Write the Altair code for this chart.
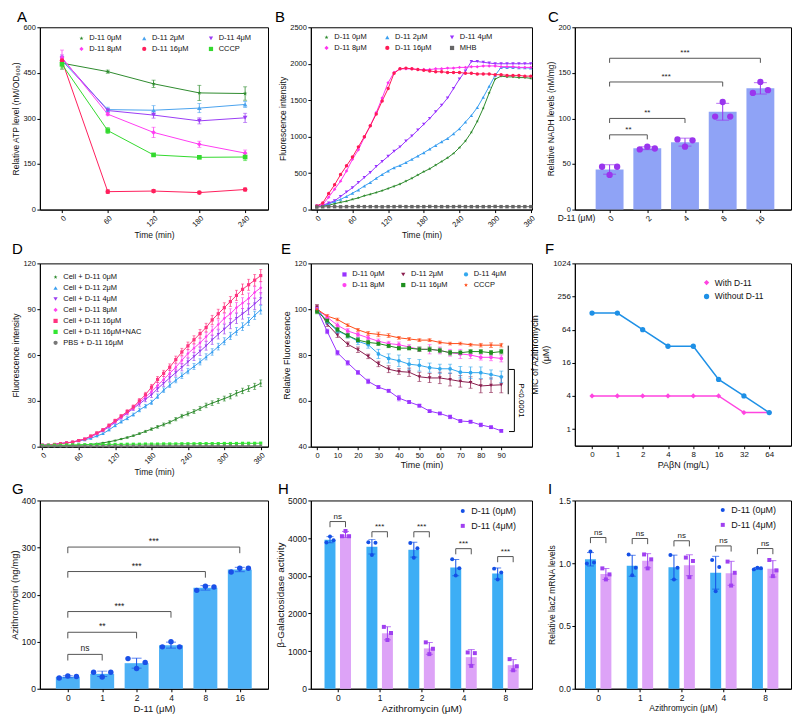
import json
import altair as alt
import numpy as np
import pandas as pd

FONT = "Liberation Sans"
STAR = "M0,-1L0.235,-0.324L0.951,-0.309L0.38,0.124L0.588,0.809L0,0.4L-0.588,0.809L-0.38,0.124L-0.951,-0.309L-0.235,-0.324Z"

# ---------------- Panel A data ----------------
a_time = [0, 60, 120, 180, 240]
a_names = ["D-11  0μM", "D-11  2μM", "D-11  4μM", "D-11  8μM", "D-11  16μM", "CCCP"]
a_colors = ["#2e8b2e", "#4aa3ee", "#9b3df5", "#ff3cf2", "#ff1f5c", "#33d92e"]
a_shapes = [STAR, "triangle-up", "triangle-down", "diamond", "circle", "square"]
a_0 = [482, 454, 414, 384, 382]
a_2 = [490, 329, 327, 334, 346]
a_4 = [497, 326, 311, 292, 302]
a_8 = [500, 314, 254, 215, 186]
a_16 = [490, 59, 61, 56, 66]
a_cccp = [478, 260, 180, 172, 173]
a_0_sd = [20, 5, 12, 25, 22]
a_2_sd = [15, 8, 15, 15, 10]
a_4_sd = [12, 6, 10, 10, 15]
a_8_sd = [25, 5, 17, 10, 10]
a_16_sd = [8, 6, 5, 4, 5]
a_cccp_sd = [12, 10, 3, 3, 12]

# ---------------- Panel B data ----------------
b_time = list(range(0, 361, 10))
b_names = ["D-11  0μM", "D-11  2μM", "D-11  4μM", "D-11  8μM", "D-11  16μM", "MHB"]
b_colors = ["#2e8b2e", "#3a9ff0", "#9933ff", "#ff33ee", "#ff1a55", "#666666"]
b_shapes = [STAR, "triangle-up", "triangle-down", "diamond", "circle", "square"]
b_0 = [45, 50, 60, 80, 100, 115, 140, 160, 190, 210, 235, 260, 290, 320, 350, 390, 430, 475, 520, 560,
       610, 660, 710, 770, 850, 940, 1060, 1210, 1390, 1600, 1790, 1830, 1820, 1820, 1810, 1810, 1800]
b_2 = [50, 55, 75, 110, 140, 180, 225, 270, 325, 370, 430, 480, 530, 575, 605, 645, 690, 735, 780, 830,
       880, 930, 975, 1040, 1110, 1200, 1290, 1400, 1540, 1690, 1840, 1950, 1950, 1950, 1945, 1945, 1940]
b_4 = [50, 60, 90, 120, 180, 240, 300, 370, 440, 510, 590, 660, 730, 800, 860, 940, 1010, 1090, 1170, 1250,
       1340, 1430, 1530, 1660, 1790, 1900, 2030, 2030, 2020, 2010, 2000, 2000, 2000, 2000, 2000, 2000, 2000]
b_8 = [40, 70, 170, 280, 390, 530, 690, 820, 990, 1150, 1330, 1530, 1740, 1880, 1930, 1930, 1930, 1920, 1920, 1920,
       1930, 1930, 1940, 1940, 1950, 1950, 1960, 1960, 1970, 1970, 1970, 1960, 1960, 1960, 1950, 1950, 1950]
b_16 = [50, 90, 220, 340, 480, 600, 720, 860, 1000, 1150, 1310, 1490, 1660, 1870, 1930, 1940, 1930, 1920, 1910, 1900,
        1890, 1890, 1880, 1880, 1880, 1870, 1870, 1860, 1860, 1860, 1850, 1850, 1840, 1840, 1840, 1830, 1830]
b_mhb = [35, 38, 40, 40, 38, 40, 40, 42, 40, 40, 40, 38, 40, 40, 42, 40, 40, 40, 40, 42,
         40, 40, 40, 40, 42, 40, 40, 40, 40, 40, 42, 40, 40, 40, 40, 40, 40]

# ---------------- Panel C data ----------------
c_labels = ["0", "2", "4", "8", "16"]
c_dots = [[47, 38, 47], [66, 69, 67], [77, 69, 76], [102, 118, 102], [128, 140, 131]]
c_sig = [(0, 1, 82, "**"), (0, 2, 100, "**"), (0, 3, 140, "***"), (0, 4, 166, "***")]

# ---------------- Panel D data ----------------
d_time = list(range(0, 361, 10))
d_names = ["Cell + D-11  0μM", "Cell + D-11  2μM", "Cell + D-11  4μM", "Cell + D-11  8μM",
           "Cell + D-11  16μM", "Cell + D-11  16μM+NAC", "PBS + D-11 16μM"]
d_colors = ["#2e8b2e", "#3a9ff0", "#9a3cf0", "#ff44ee", "#ff3380", "#33e633", "#777777"]
d_shapes = [STAR, "triangle-up", "triangle-down", "diamond", "square", "square", "circle"]
d_0 = [0.5, 0.5, 0.5, 0.6, 0.7, 0.8, 1.0, 1.2, 1.5, 2.0, 2.5, 3.2, 4.0, 5.0, 6.0, 7.2, 8.5, 10, 11.5, 13,
       14.5, 16, 18, 20, 21.5, 23, 25, 27, 28.5, 30, 31.5, 33, 35, 36.5, 38, 39.5, 41.5]
d_2 = [1, 1.2, 1.5, 2, 2.5, 3, 3.8, 4.5, 5.5, 7, 8.5, 11, 13.8, 16.3, 18.6, 21, 24, 26.5, 29, 33,
       37, 40.3, 43.5, 46.5, 49.5, 52.5, 55.5, 58.8, 62, 65.5, 69, 72.5, 75.5, 78.6, 82, 86, 89.6]
d_4 = [1, 1, 1.5, 2, 2.5, 3, 4, 5, 6.5, 8.5, 10.5, 13, 16, 19, 22, 25, 28, 31, 34, 38,
       41.5, 45, 48.5, 52, 55.5, 59, 62.5, 66, 70, 73.5, 77, 80.5, 84, 87, 90, 93.5, 97]
d_8 = [1, 1, 1.5, 2, 2.5, 3, 4, 5, 6.5, 8.5, 11, 13.5, 16.5, 19.5, 22.5, 25.5, 29, 32.5, 36, 40,
       44, 48, 52, 56.5, 61, 64.5, 68, 72, 76, 80, 84, 87, 91, 94, 97, 101, 104]
d_16 = [1, 1, 1.5, 2, 2.5, 3, 4, 5, 7, 9, 11, 14, 17, 20, 23, 26, 30, 34, 39, 44,
        48, 52, 57, 62, 66, 70, 74, 78, 83, 87, 91, 95, 99, 103, 106, 109, 112]
d_nac = [0.8, 0.9, 1, 1, 1.1, 1.2, 1.2, 1.3, 1.3, 1.4, 1.4, 1.5, 1.5, 1.5, 1.6, 1.6, 1.6, 1.7, 1.7, 1.7,
         1.8, 1.8, 1.8, 1.9, 1.9, 1.9, 2, 2, 2, 2, 2.1, 2.1, 2.1, 2.2, 2.2, 2.2, 2.3]
d_pbs = [0.4, 0.4, 0.4, 0.4, 0.4, 0.5, 0.5, 0.5, 0.5, 0.5, 0.5, 0.5, 0.5, 0.5, 0.5, 0.5, 0.5, 0.5, 0.6, 0.6,
         0.6, 0.6, 0.6, 0.6, 0.6, 0.6, 0.6, 0.6, 0.6, 0.6, 0.6, 0.6, 0.6, 0.6, 0.6, 0.6, 0.6]
d_sd_hi = [0.2, 0.2, 0.2, 0.2, 0.3, 0.3, 0.3, 0.4, 0.5, 0.6, 0.7, 0.8, 1, 1, 1.2, 1.3, 1.5, 1.6, 1.8, 2,
           2, 2.2, 2.3, 2.4, 2.5, 2.6, 2.8, 2.8, 3, 3, 3.2, 3.3, 3.4, 3.5, 3.6, 3.8, 4]
d_sd_mid = [0.2, 0.2, 0.2, 0.2, 0.2, 0.3, 0.3, 0.3, 0.4, 0.5, 0.5, 0.6, 0.8, 0.8, 1, 1, 1.2, 1.2, 1.4, 1.5,
            1.5, 1.6, 1.7, 1.8, 1.8, 1.9, 2, 2, 2.1, 2.2, 2.3, 2.4, 2.5, 2.5, 2.6, 2.7, 2.8]
d_sd_lo = [0.1, 0.1, 0.1, 0.1, 0.1, 0.1, 0.1, 0.1, 0.2, 0.2, 0.2, 0.3, 0.3, 0.4, 0.5, 0.5, 0.6, 0.7, 0.8, 0.9,
           1, 1, 1.1, 1.2, 1.3, 1.3, 1.4, 1.5, 1.5, 1.6, 1.6, 1.7, 1.8, 1.8, 1.9, 2, 2.2]

# ---------------- Panel E data ----------------
e_time = list(range(0, 91, 5))
e_names = ["D-11  0μM", "D-11  2μM", "D-11  4μM", "D-11  8μM", "D-11  16μM", "CCCP"]
e_colors = ["#9933ff", "#8b1f4f", "#33a8ee", "#ff44f0", "#1f8f1f", "#ff4d1a"]
e_shapes = ["square", "triangle-down", "circle", "circle", "square", STAR]
e_0 = [100, 90.3, 81, 76.6, 72.4, 68.5, 66, 64.4, 61.2, 59.5, 57.9, 55.5, 54.5, 53, 51.2, 50.9, 49.5, 48.5, 46.9]
e_2 = [101, 93.5, 88.7, 84.7, 82.3, 79.4, 76.1, 73.8, 72.8, 72.5, 70.5, 70, 70, 69.3, 68.5, 68, 66.5, 66.8, 67]
e_4 = [100, 94.5, 90.5, 88.5, 86, 84.5, 80.5, 78.5, 77.5, 76, 75.5, 74.5, 74, 74, 72.5, 72.3, 72.3, 71.5, 70.5]
e_8 = [100, 96.5, 93, 90.5, 89, 87.5, 86, 85, 84.5, 83.5, 82.5, 82.5, 82, 81, 80.5, 80, 79, 79, 78.5]
e_16 = [99, 95, 91, 88.5, 86.5, 85.5, 85, 84, 83, 83, 82.5, 82.5, 82, 81, 81, 81.5, 81.5, 81, 81.5]
e_cccp = [100, 97, 95.5, 93, 91, 89.5, 89, 88.5, 87.5, 87, 86.5, 86.5, 85.5, 85, 85, 84.5, 84.3, 84.3, 84.3]
e_0_sd = [1, 1, 1, 1, 0.8, 1, 0.6, 0.6, 1.2, 0.6, 0.6, 0.5, 0.5, 0.8, 0.5, 0.6, 0.8, 0.5, 0.5]
e_2_sd = [1, 1, 1, 1, 1.2, 1, 1.2, 1.5, 1.2, 1.8, 2, 2, 2.5, 2.8, 2.5, 2.5, 3, 3.2, 3.5]
e_4_sd = [1, 1, 1, 1, 1.5, 1.5, 2, 2, 2.5, 2.5, 2.5, 2, 2, 2, 2.5, 2.5, 2.5, 2, 2.5]
e_8_sd = [1, 1, 1, 1, 1, 1, 1, 1, 1.2, 1, 1, 2, 1.5, 1.5, 2, 1.5, 1.2, 1.5, 1.5]
e_16_sd = [1, 1, 1, 1, 1, 1, 0.8, 0.8, 0.8, 0.8, 1, 1, 1, 1, 0.8, 0.8, 0.8, 1, 1]
e_cccp_sd = [1, 0.6, 0.6, 0.6, 0.6, 0.8, 1, 0.8, 0.6, 0.6, 0.6, 0.6, 0.6, 0.6, 0.6, 0.6, 0.8, 1, 0.8]
e_line_x = 93.4
e_line_y = [62.9, 84.1]
e_brk_x = [93.8, 96.4]
e_brk_y = [46.6, 73.7]
e_p_text = "P<0.0001"

# ---------------- Panel F data ----------------
f_labels = ["0", "1", "2", "4", "8", "16", "32", "64"]
f_names = ["With D-11", "Without D-11"]
f_colors = ["#ff44e0", "#1e90e6"]
f_shapes = ["diamond", "circle"]
f_with = [4, 4, 4, 4, 4, 4, 2, 2]
f_without = [128, 128, 64, 32, 32, 8, 4, 2]

# ---------------- Panel G data ----------------
g_labels = ["0", "1", "2", "4", "8", "16"]
g_dots = [[23, 27, 26], [35, 25, 35], [64, 43, 56], [89, 100, 89], [209, 218, 216], [248, 256, 256]]
g_sig = [(0, 1, 73, "ns"), (0, 2, 120, "**"), (0, 3, 164, "***"), (0, 4, 249, "***"), (0, 5, 301, "***")]

# ---------------- Panel H data ----------------
h_labels = ["0", "1", "2", "4", "8"]
hi_names = ["D-11 (0μM)", "D-11 (4μM)"]
h_blue = [[3884, 4045, 3946], [3890, 3550, 3880], [3870, 3480, 3730], [3440, 3010, 3200], [3190, 2900, 3090]]
h_purple = [[4050, 4190, 4050], [1643, 1295, 1480], [1232, 920, 1062], [964, 607, 946], [786, 491, 598]]
h_sig_y = [4440, 4170, 4170, 3720, 3510]
h_sig_t = ["ns", "***", "***", "***", "***"]

# ---------------- Panel I data ----------------
i_labels = ["0", "1", "2", "4", "8"]
i_blue = [[0.997, 1.093, 1.005], [1.07, 0.905, 0.964], [1.066, 0.871, 0.964], [1.026, 0.777, 0.970], [0.951, 0.965, 0.960]]
i_purple = [[0.959, 0.871, 0.911], [1.07, 0.959, 1.031], [1.045, 0.889, 1.018], [1.013, 0.822, 0.924], [1.026, 0.897, 0.943]]
i_sig_y = [1.205, 1.197, 1.179, 1.138, 1.117]
i_sig_t = ["ns", "ns", "ns", "ns", "ns"]


# ================= helpers =================
def long_df(times, names, series, errs):
    rows = []
    for name, vals, er in zip(names, series, errs):
        for j, t in enumerate(times):
            e = er[j] if er is not None else 0.0
            rows.append(dict(t=t, s=name, v=vals[j], lo=vals[j] - e, hi=vals[j] + e, e=e))
    return pd.DataFrame(rows)


def lg(x, y, cols=1, fs=7.5, sym=18, colpad=12, rowpad=2):
    return alt.Legend(orient="none", legendX=x, legendY=y, columns=cols, direction="horizontal",
                      title=None, labelFontSize=fs, symbolSize=sym, columnPadding=colpad,
                      rowPadding=rowpad, labelFont=FONT, labelColor="#111", padding=0,
                      labelLimit=300, symbolStrokeWidth=0, labelOffset=4)


def letter(ch, dx, dy):
    return alt.Chart(pd.DataFrame({"l": [ch]})).mark_text(
        fontSize=15, font=FONT, align="left", baseline="top", color="black"
    ).encode(text="l:N", x=alt.value(dx), y=alt.value(dy))


def lab_expr(labels):
    return json.dumps(labels, ensure_ascii=False) + "[datum.value]"


def brackets(items, depth, xs, ys, xa, ya, fs=8, dy=-1, color="#555"):
    seg, lab = [], []
    for x1, x2, y, t in items:
        seg.append({"x": x1, "x2": x2, "y": y, "y2": y})
        seg.append({"x": x1, "x2": x1, "y": y - depth, "y2": y})
        seg.append({"x": x2, "x2": x2, "y": y - depth, "y2": y})
        lab.append({"x": (x1 + x2) / 2, "y": y, "t": t})
    r = alt.Chart(pd.DataFrame(seg)).mark_rule(color=color, strokeWidth=1).encode(
        x=alt.X("x:Q", scale=xs, axis=xa), x2="x2:Q",
        y=alt.Y("y:Q", scale=ys, axis=ya), y2="y2:Q")
    tx = alt.Chart(pd.DataFrame(lab)).mark_text(
        baseline="bottom", dy=dy, fontSize=fs, font=FONT, color="#222").encode(
        x=alt.X("x:Q", scale=xs, axis=xa), y=alt.Y("y:Q", scale=ys, axis=ya), text="t:N")
    return [r, tx]


def line_panel(df, names, colors, shapes, xdom, ydom, xticks, yticks, xtitle, ytitle,
               legend, psize, xangle=0, ylog=False, show_err=True, lw=1.0,
               xlabels=None, yfmt="d", cap=4, lfs=7.5, tfs=8.5):
    cs = alt.Scale(domain=names, range=colors)
    ss = alt.Scale(domain=names, range=shapes)
    xs = alt.Scale(domain=xdom, nice=False, zero=False)
    if ylog:
        ys = alt.Scale(type="log", base=2, domain=ydom, nice=False)
    else:
        ys = alt.Scale(domain=ydom, nice=False, zero=False)
    xa_kw = dict(values=xticks, title=xtitle, labelAngle=xangle, labelFontSize=lfs, titleFontSize=tfs)
    if xlabels is not None:
        xa_kw["labelExpr"] = lab_expr(xlabels)
    ya_kw = dict(values=yticks, title=ytitle, labelFontSize=lfs, titleFontSize=tfs, format=yfmt)
    xa = alt.Axis(**xa_kw)
    ya = alt.Axis(**ya_kw)
    X = alt.X("t:Q", scale=xs, axis=xa)
    Y = alt.Y("v:Q", scale=ys, axis=ya)
    base = alt.Chart(df)
    layers = []
    for name, col in zip(names, colors):
        sub = base.transform_filter(alt.datum.s == name)
        layers.append(sub.mark_line(strokeWidth=lw, color=col).encode(x=X, y=Y))
        if show_err:
            layers.append(sub.transform_filter("datum.e > 0").mark_errorbar(
                ticks=True, size=cap, thickness=0.8, color=col).encode(
                x=X, y=alt.Y("lo:Q", scale=ys, axis=ya), y2="hi:Q"))
    layers.append(base.mark_point(filled=True, size=psize, opacity=1).encode(
        x=X, y=Y, color=alt.Color("s:N", scale=cs, legend=legend),
        shape=alt.Shape("s:N", scale=ss, legend=legend)))
    return layers, xs, ys, xa, ya


def single_bar_panel(labels, dots, sig, bar_color, dot_color, bar_size, dot_size, xdom, ydom,
                     yticks, ytitle, xaxis, w, h, cap, depth, let, sig_fs=8, dot_off=(-0.2, 0, 0.2),
                     lfs=7.5, tfs=8.5):
    xs = alt.Scale(domain=xdom, nice=False, zero=False)
    ys = alt.Scale(domain=ydom, nice=False, zero=True)
    bars, pts = [], []
    for i, d in enumerate(dots):
        m = float(np.mean(d))
        sd = float(np.std(d, ddof=1))
        bars.append({"x": i, "m": m, "lo": m - sd, "hi": m + sd})
        for k, v in enumerate(d):
            pts.append({"x": i + dot_off[k], "v": v})
    bdf = pd.DataFrame(bars)
    pdf = pd.DataFrame(pts)
    ya = alt.Axis(values=yticks, title=ytitle, labelFontSize=lfs, titleFontSize=tfs, format="d")
    X = alt.X("x:Q", scale=xs, axis=xaxis)
    layers = [
        alt.Chart(bdf).mark_bar(size=bar_size, color=bar_color).encode(
            x=X, y=alt.Y("m:Q", scale=ys, axis=ya)),
        alt.Chart(bdf).mark_errorbar(ticks=True, size=cap, thickness=1, color=dot_color).encode(
            x=X, y=alt.Y("lo:Q", scale=ys, axis=ya), y2="hi:Q"),
        alt.Chart(pdf).mark_circle(size=dot_size, color=dot_color, opacity=1).encode(
            x=X, y=alt.Y("v:Q", scale=ys, axis=ya)),
    ]
    layers += brackets(sig, depth, xs, ys, xaxis, ya, fs=sig_fs)
    layers.append(let)
    return alt.layer(*layers).properties(width=w, height=h)


def group_panel(labels, blue, purple, sig_y, sig_t, xdom, ydom, yticks, ytitle, xtitle,
                w, h, depth, let, legend, yfmt="d", off=0.185, bar_size=11, cap=7,
                lfs=8.5, tfs=9.5):
    bar_cols = ["#3daef5", "#dda3f7"]
    dot_cols = ["#1450e6", "#a040f0"]
    shapes = ["circle", "square"]
    xs = alt.Scale(domain=xdom, nice=False, zero=False)
    ys = alt.Scale(domain=ydom, nice=False, zero=True)
    bars, pts = [], []
    for gi, grp in enumerate([blue, purple]):
        o = -off if gi == 0 else off
        for i, d in enumerate(grp):
            m = float(np.mean(d))
            sd = float(np.std(d, ddof=1))
            bars.append({"x": i + o, "m": m, "lo": m - sd, "hi": m + sd, "g": gi})
            for k, v in enumerate(d):
                pts.append({"x": i + o + (k - 1) * 0.085, "v": v, "s": hi_names[gi]})
    bdf = pd.DataFrame(bars)
    pdf = pd.DataFrame(pts)
    xa = alt.Axis(values=list(range(len(labels))), labelExpr=lab_expr(labels), title=xtitle,
                  labelFontSize=lfs, titleFontSize=tfs)
    ya = alt.Axis(values=yticks, title=ytitle, labelFontSize=lfs, titleFontSize=tfs, format=yfmt)
    X = alt.X("x:Q", scale=xs, axis=xa)
    layers = []
    for gi in range(2):
        sub = bdf[bdf.g == gi]
        layers.append(alt.Chart(sub).mark_bar(size=bar_size, color=bar_cols[gi]).encode(
            x=X, y=alt.Y("m:Q", scale=ys, axis=ya)))
    for gi in range(2):
        sub = bdf[bdf.g == gi]
        layers.append(alt.Chart(sub).mark_errorbar(ticks=True, size=cap, thickness=1, color=dot_cols[gi]).encode(
            x=X, y=alt.Y("lo:Q", scale=ys, axis=ya), y2="hi:Q"))
    cs = alt.Scale(domain=hi_names, range=dot_cols)
    ss = alt.Scale(domain=hi_names, range=shapes)
    layers.append(alt.Chart(pdf).mark_point(filled=True, size=16, opacity=1).encode(
        x=X, y=alt.Y("v:Q", scale=ys, axis=ya),
        color=alt.Color("s:N", scale=cs, legend=legend),
        shape=alt.Shape("s:N", scale=ss, legend=legend)))
    items = [(i - off, i + off, y, t) for i, (y, t) in enumerate(zip(sig_y, sig_t))]
    layers += brackets(items, depth, xs, ys, xa, ya, fs=8)
    layers.append(let)
    return alt.layer(*layers).properties(width=w, height=h)


# ================= layout sizes =================
W0, W1, W2 = 229, 222, 217
H0, H1, H2 = 183, 184, 189

# ---------------- Panel A ----------------
dfA = long_df(a_time, a_names, [a_0, a_2, a_4, a_8, a_16, a_cccp],
              [a_0_sd, a_2_sd, a_4_sd, a_8_sd, a_16_sd, a_cccp_sd])
layA, _, _, _, _ = line_panel(dfA, a_names, a_colors, a_shapes, [-29, 270], [0, 600], a_time,
                              [0, 150, 300, 450, 600], "Time (min)", "Relative ATP level (nM/OD₆₀₀)",
                              lg(38, 7, cols=3, colpad=16), 22, xangle=-45, cap=4)
A = alt.layer(*layA, letter("A", -23, -17)).properties(width=W0, height=H0)

# ---------------- Panel B ----------------
dfB = long_df(b_time, b_names, [b_0, b_2, b_4, b_8, b_16, b_mhb], [None] * 6)
layB, _, _, _, _ = line_panel(dfB, b_names, b_colors, b_shapes, [-10, 362], [0, 2500],
                              list(range(0, 361, 60)), [0, 500, 1000, 1500, 2000, 2500],
                              "Time (min)", "Fluorescence intensity",
                              lg(12, 6, cols=3, colpad=14), 12, xangle=-45, show_err=False)
B = alt.layer(*layB, letter("B", -36, -17)).properties(width=W1, height=H0)

# ---------------- Panel C ----------------
xaxC = alt.Axis(values=list(range(5)), labelExpr=lab_expr(c_labels), labelAngle=-45,
                title="D-11 (μM)", titleAngle=0, titleX=20, titleY=8, titleAlign="right",
                titleBaseline="middle", titleFontSize=8.5, labelFontSize=8)
C = single_bar_panel(c_labels, c_dots, c_sig, "#8fa3f6", "#9a35ee", 28, 40, [-0.79, 4.68], [0, 200],
                     [0, 50, 100, 150, 200], "Relative NADH levels  (nM/mg)", xaxC, W2, H0, 13, 5,
                     letter("C", -27, -17))

# ---------------- Panel D ----------------
dfD = long_df(d_time, d_names, [d_0, d_2, d_4, d_8, d_16, d_nac, d_pbs],
              [d_sd_lo, d_sd_mid, d_sd_hi, d_sd_hi, d_sd_hi, None, None])
layD, _, _, _, _ = line_panel(dfD, d_names, d_colors, d_shapes, [-4, 372], [0, 120],
                              list(range(0, 361, 60)), [0, 30, 60, 90, 120],
                              "Time (min)", "Fluorescence intensity",
                              lg(12, 10, cols=1, fs=7.5, rowpad=2), 10, xangle=-45, cap=3)
D = alt.layer(*layD, letter("D", -28, -21)).properties(width=W0, height=H1)

# ---------------- Panel E ----------------
dfE = long_df(e_time, e_names, [e_0, e_2, e_4, e_8, e_16, e_cccp],
              [e_0_sd, e_2_sd, e_4_sd, e_8_sd, e_16_sd, e_cccp_sd])
layE, xsE, ysE, xaE, yaE = line_panel(dfE, e_names, e_colors, e_shapes, [-3, 105], [40, 120],
                                      list(range(0, 91, 10)), [40, 60, 80, 100, 120],
                                      "Time (min)", "Relative Fluorescence",
                                      lg(30, 7, cols=3, colpad=12), 14, cap=4, tfs=9)
segE = pd.DataFrame([
    {"x": e_line_x, "x2": e_line_x, "y": e_line_y[0], "y2": e_line_y[1]},
    {"x": e_brk_x[0], "x2": e_brk_x[1], "y": e_brk_y[0], "y2": e_brk_y[0]},
    {"x": e_brk_x[0], "x2": e_brk_x[1], "y": e_brk_y[1], "y2": e_brk_y[1]},
    {"x": e_brk_x[1], "x2": e_brk_x[1], "y": e_brk_y[0], "y2": e_brk_y[1]},
])
ruleE = alt.Chart(segE).mark_rule(color="black", strokeWidth=1).encode(
    x=alt.X("x:Q", scale=xsE, axis=xaE), x2="x2:Q",
    y=alt.Y("y:Q", scale=ysE, axis=yaE), y2="y2:Q")
txtE = alt.Chart(pd.DataFrame({"x": [e_brk_x[1] + 3.2], "y": [sum(e_brk_y) / 2], "t": [e_p_text]})).mark_text(
    angle=90, fontSize=8, font=FONT, color="black", align="center", baseline="middle").encode(
    x=alt.X("x:Q", scale=xsE, axis=xaE), y=alt.Y("y:Q", scale=ysE, axis=yaE), text="t:N")
E = alt.layer(*layE, ruleE, txtE, letter("E", -30, -21)).properties(width=W1, height=H1)

# ---------------- Panel F ----------------
f_idx = list(range(len(f_labels)))
dfF = long_df(f_idx, f_names, [f_with, f_without], [None, None])
layF, _, _, _, _ = line_panel(dfF, f_names, f_colors, f_shapes, [-0.68, 7.86], [0.5, 1024], f_idx,
                              [1, 4, 16, 64, 256, 1024], "PAβN (mg/L)", ["MIC of Azithromycin", "(μM)"],
                              lg(128, 15, cols=1, fs=8.5, sym=28, rowpad=5), 28,
                              ylog=True, show_err=False, lw=1.5, xlabels=f_labels, lfs=8, tfs=9)
F = alt.layer(*layF, letter("F", -30, -21)).properties(width=W2, height=183)

# ---------------- Panel G ----------------
xaxG = alt.Axis(values=list(range(6)), labelExpr=lab_expr(g_labels), title="D-11 (μM)",
                labelFontSize=8.5, titleFontSize=9.5)
G = single_bar_panel(g_labels, g_dots, g_sig, "#4db1f6", "#1a50e8", 24, 30, [-0.667, 5.676], [0, 400],
                     [0, 100, 200, 300, 400], "Azithromycin  (ng/mg)", xaxG, W0, H2, 10, 13,
                     letter("G", -28, -18), sig_fs=8.5, dot_off=(-0.25, 0, 0.25), lfs=8.5, tfs=9.5)

# ---------------- Panel H ----------------
H = group_panel(h_labels, h_blue, h_purple, h_sig_y, h_sig_t, [-0.523, 4.515], [0, 5000],
                [0, 1000, 2000, 3000, 4000, 5000], "β-Galactosidase activity", "Azithromycin (μM)",
                W1, H2, 150, letter("H", -33, -18), lg(148, 6, cols=1, fs=9, sym=16, rowpad=5), tfs=10)

# ---------------- Panel I ----------------
I = group_panel(i_labels, i_blue, i_purple, i_sig_y, i_sig_t, [-0.44, 4.5], [0, 1.5],
                [0, 0.5, 1.0, 1.5], "Relative lacZ mRNA levels", "Azithromycin (μM)",
                W2, H2, 0.045, letter("I", -27, -18), lg(144, 5, cols=1, fs=9, sym=16, rowpad=5),
                yfmt=".1f", tfs=8.5)

chart = alt.concat(A, B, C, D, E, F, G, H, I, columns=3,
                   spacing={"row": 54, "column": 43}, bounds="flush").resolve_scale(
    color="independent", shape="independent").resolve_legend(
    color="independent", shape="independent").properties(padding=0).configure(
    font=FONT).configure_axis(
    labelFont=FONT, titleFont=FONT, titleFontWeight="normal", labelColor="#111", titleColor="#111",
    domainColor="#000", tickColor="#000", tickSize=3, labelPadding=1.5, titlePadding=2,
    grid=False, domainWidth=1, tickWidth=1).configure_view(stroke="#000", strokeWidth=1)

chart.save("out.html", embed_options={"renderer": "svg", "actions": False})
